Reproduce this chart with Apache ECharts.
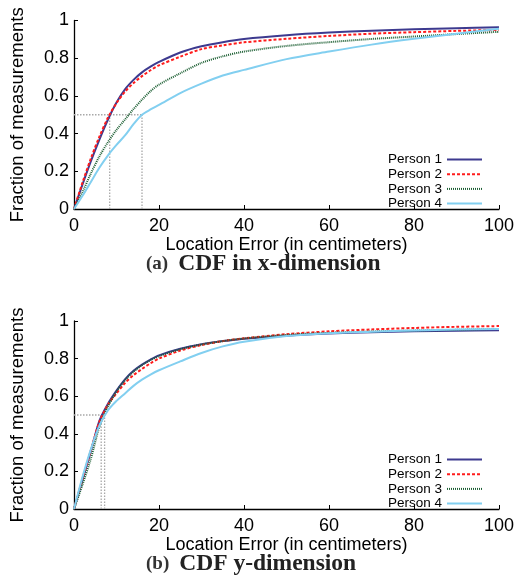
<!DOCTYPE html>
<html>
<head>
<meta charset="utf-8">
<script src="https://cdn.jsdelivr.net/npm/echarts@6/dist/echarts.min.js"></script>
<style>
html,body{margin:0;padding:0;background:#fff;}
#c{width:519px;height:580px;}
</style>
</head>
<body>
<div id="c"></div>
<script>
// ---- data ----
var xs = [0, 2, 4, 6, 8, 10, 12, 14, 16, 18, 20, 25, 30, 35, 40, 50, 60, 70, 80, 90, 100];
var seriesNames = ['Person 1', 'Person 2', 'Person 3', 'Person 4'];
// (a) CDF in x-dimension
var xP1 = [0, 0.13, 0.255, 0.37, 0.475, 0.565, 0.635, 0.685, 0.725, 0.755, 0.78, 0.83, 0.863, 0.885, 0.902, 0.922, 0.936, 0.946, 0.953, 0.959, 0.964];
var xP2 = [0, 0.14, 0.27, 0.385, 0.485, 0.562, 0.622, 0.668, 0.705, 0.736, 0.762, 0.808, 0.848, 0.868, 0.884, 0.903, 0.918, 0.93, 0.938, 0.945, 0.95];
var xP3 = [0, 0.09, 0.19, 0.28, 0.355, 0.42, 0.475, 0.53, 0.58, 0.625, 0.66, 0.72, 0.775, 0.81, 0.835, 0.865, 0.885, 0.902, 0.915, 0.928, 0.94];
var xP4 = [0, 0.07, 0.145, 0.22, 0.285, 0.34, 0.39, 0.45, 0.5, 0.528, 0.552, 0.615, 0.665, 0.708, 0.738, 0.795, 0.835, 0.872, 0.903, 0.93, 0.956];
// (b) CDF y-dimension
var yP1 = [0, 0.155, 0.31, 0.47, 0.56, 0.63, 0.69, 0.735, 0.768, 0.795, 0.817, 0.852, 0.876, 0.893, 0.906, 0.922, 0.933, 0.94, 0.945, 0.948, 0.951];
var yP2 = [0, 0.16, 0.315, 0.465, 0.555, 0.615, 0.67, 0.712, 0.745, 0.775, 0.8, 0.843, 0.872, 0.893, 0.908, 0.93, 0.945, 0.955, 0.963, 0.969, 0.973];
var yP3 = [0, 0.13, 0.27, 0.44, 0.545, 0.625, 0.685, 0.73, 0.765, 0.792, 0.813, 0.85, 0.875, 0.893, 0.907, 0.926, 0.937, 0.944, 0.949, 0.953, 0.958];
var yP4 = [0, 0.17, 0.32, 0.445, 0.525, 0.575, 0.615, 0.655, 0.688, 0.715, 0.738, 0.785, 0.83, 0.865, 0.89, 0.92, 0.935, 0.943, 0.95, 0.955, 0.958];
// median guide lines (x positions where CDF = 0.5)
var medianLevel = 0.5;
var mediansA = [8.4, 16.0];
var mediansB = [6.4, 7.2];
var xTicks = [0, 20, 40, 60, 80, 100];
var yTicks = [0, 0.2, 0.4, 0.6, 0.8, 1];
var captionA = ['(a)', 'CDF in x-dimension'];
var captionB = ['(b)', 'CDF y-dimension'];
var xAxisName = 'Location Error (in centimeters)';
var yAxisName = 'Fraction of measurements';

// ---- styles ----
var colors = ['#3d3a8f', '#ff1c1c', '#1b5e32', '#82cff0'];
var dashTypes = ['solid', [3, 2], [1, 1], 'solid'];
var sans = 'Liberation Sans, Arial, Helvetica, sans-serif';

function pairs(vals) { return xs.map(function (x, i) { return [x, vals[i]]; }); }

function makeSeries(vals, idx, gi) {
  return {
    name: seriesNames[idx], type: 'line', xAxisIndex: gi, yAxisIndex: gi,
    data: pairs(vals), symbol: 'none', smooth: 0.3,
    lineStyle: { color: colors[idx], width: 2, type: dashTypes[idx] },
    itemStyle: { color: colors[idx] }, z: 3 + idx, silent: true
  };
}
function guideSeries(meds, gi) {
  var mx = Math.max.apply(null, meds);
  var out = [{
    type: 'line', xAxisIndex: gi, yAxisIndex: gi, symbol: 'none', silent: true, z: 2,
    data: [[0, medianLevel], [mx, medianLevel]],
    lineStyle: { color: '#a8a8a8', width: 1.3, type: [1.5, 1.5] }
  }];
  meds.forEach(function (m) {
    out.push({
      type: 'line', xAxisIndex: gi, yAxisIndex: gi, symbol: 'none', silent: true, z: 2,
      data: [[m, 0], [m, medianLevel]],
      lineStyle: { color: '#a8a8a8', width: 1.3, type: [1.5, 1.5] }
    });
  });
  return out;
}
function xAxisCfg(gi) {
  return {
    type: 'value', gridIndex: gi, min: xTicks[0], max: xTicks[xTicks.length - 1], interval: xTicks[1] - xTicks[0],
    name: xAxisName, nameLocation: 'middle', nameGap: 25,
    nameTextStyle: { fontFamily: sans, fontSize: 18, color: '#000' },
    axisLine: { lineStyle: { color: '#000', width: 1.3 } },
    axisTick: { inside: true, length: 4, lineStyle: { color: '#000', width: 1 } },
    axisLabel: { fontFamily: sans, fontSize: 18, color: '#000', margin: 8 },
    splitLine: { show: false }
  };
}
function yAxisCfg(gi) {
  return {
    type: 'value', gridIndex: gi, min: yTicks[0], max: yTicks[yTicks.length - 1], interval: yTicks[1] - yTicks[0],
    name: yAxisName, nameLocation: 'middle', nameGap: 47,
    nameTextStyle: { fontFamily: sans, fontSize: 18.5, color: '#000' },
    axisLine: { show: true, lineStyle: { color: '#000', width: 1.3 } },
    axisTick: { show: true, inside: true, length: 4, lineStyle: { color: '#000', width: 1 } },
    axisLabel: { fontFamily: sans, fontSize: 18, color: '#000', margin: 5 },
    splitLine: { show: false }
  };
}
function legendCfg(top) {
  return {
    data: seriesNames, orient: 'vertical', right: 36, top: top, align: 'right',
    itemWidth: 35, itemHeight: 13, itemGap: 0.7, padding: 0,
    itemStyle: { opacity: 0 },
    textStyle: { fontFamily: sans, fontSize: 13.5, color: '#000', lineHeight: 13 },
    selectedMode: false
  };
}
function captionCfg(cap, top) {
  return {
    text: '{n|' + cap[0] + '}  {b|' + cap[1] + '}', left: 146, top: top, padding: 0,
    textStyle: {
      rich: {
        n: { fontFamily: 'Liberation Serif, Times New Roman, serif', fontSize: 19, color: '#333', lineHeight: 24 },
        b: { fontFamily: 'Liberation Serif, Times New Roman, serif', fontSize: 23.5, fontWeight: 'bold', color: '#222', lineHeight: 24 }
      }
    }
  };
}

var series = [];
series = series.concat(guideSeries(mediansA, 0), guideSeries(mediansB, 1));
[xP1, xP2, xP3, xP4].forEach(function (v, i) { series.push(makeSeries(v, i, 0)); });
[yP1, yP2, yP3, yP4].forEach(function (v, i) { series.push(makeSeries(v, i, 1)); });

var chart = echarts.init(document.getElementById('c'), null, { renderer: 'canvas' });
chart.setOption({
  animation: false,
  backgroundColor: '#fff',
  title: [captionCfg(captionA, 252), captionCfg(captionB, 552)],
  legend: [legendCfg(152.5), legendCfg(452.5)],
  grid: [
    { left: 73, top: 20.5, width: 426, height: 188.5 },
    { left: 73, top: 321, width: 426, height: 188 }
  ],
  xAxis: [xAxisCfg(0), xAxisCfg(1)],
  yAxis: [yAxisCfg(0), yAxisCfg(1)],
  series: series
});
</script>
</body>
</html>
